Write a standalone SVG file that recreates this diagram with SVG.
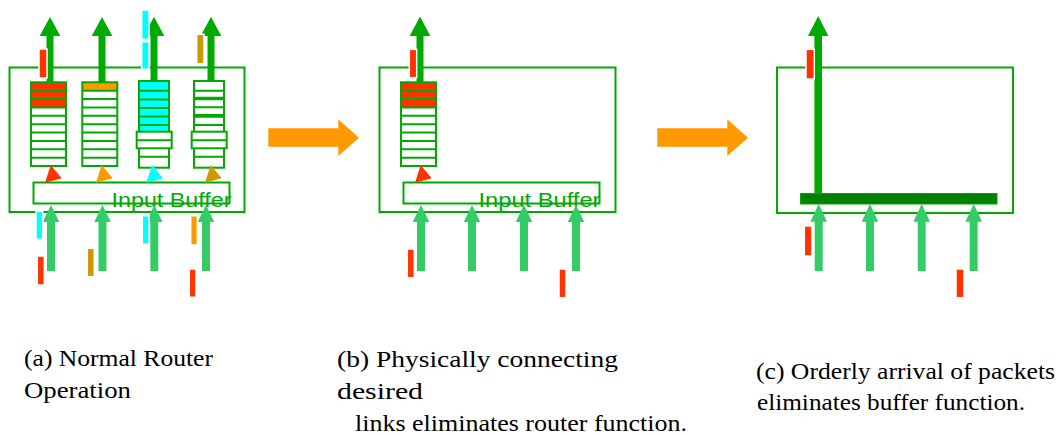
<svg xmlns="http://www.w3.org/2000/svg" xmlns:xlink="http://www.w3.org/1999/xlink" width="1058" height="435" viewBox="0 0 1058 435">
<style>
.box{fill:none;stroke:#00AA00;stroke-width:2}
.slot{fill:none;stroke:#00AA00;stroke-width:2}
.wide{fill:#fff;stroke:#00AA00;stroke-width:2}
.buf{fill:#fff;stroke:#00AA00;stroke-width:2}
.buft{font-family:'Liberation Sans',Arial,sans-serif;font-size:21px;fill:#00AA00}
.out{fill:#00AA00}
.in{fill:#33CC66}
.big{fill:#FF9900}
.pk{stroke:#fff;stroke-width:1.5}
.red{fill:#FF3300}.cyan{fill:#00FFFF}.gold{fill:#CC9900}.orange{fill:#FF9900}
.cap{font-family:'Liberation Serif','Times New Roman',Times,serif;font-size:24px;fill:#000}
</style>
<defs>
<g id="q10">
<rect class="slot" x="0" y="0" width="35" height="83.7"/>
<path class="slot" d="M0 8.37H35M0 16.74H35M0 25.11H35M0 33.48H35M0 41.85H35M0 50.22H35M0 58.59H35M0 66.96H35M0 75.33H35"/>
</g>
<polygon id="tri" points="0,0 -5.7,17.7 11,13.3"/>
</defs>

<!-- Panel A -->
<g id="panelA">
<rect class="box" x="9.5" y="67.5" width="235" height="144.5"/>
<g id="queueA1">
<rect class="red" x="31" y="82.3" width="35" height="25.1"/>
<use xlink:href="#q10" x="31" y="82.3"/>
</g>
<g id="queueA2">
<rect class="orange" x="82.3" y="82.3" width="35" height="8.37"/>
<use xlink:href="#q10" x="82.3" y="82.3"/>
</g>
<g id="queueA3">
<rect class="cyan" x="139" y="81" width="30" height="52.3"/>
<rect class="slot" x="139" y="81" width="30" height="86.7"/>
<path class="slot" d="M139 90.7H169M139 99.5H169M139 108H169M139 116.6H169M139 125H169M139 156.7H169"/>
<rect class="wide" x="136.7" y="131.7" width="35" height="16.6"/>
<path class="slot" d="M136.7 140.2H171.7"/>
</g>
<g id="queueA4">
<rect class="slot" x="194" y="81" width="30" height="86.7"/>
<path class="slot" d="M194 90.7H224M194 97.7H224M194 99.3H224M194 107.3H224M194 115H224M194 116.8H224M194 125H224M194 156.7H224"/>
<rect class="wide" x="191.7" y="131.7" width="35" height="16.6"/>
<path class="slot" d="M191.7 140.2H226.7"/>
</g>
<g id="bufferA">
<rect class="buf" x="33.5" y="182.5" width="196" height="21"/>
<text class="buft" x="111.5" y="206.7" textLength="120" lengthAdjust="spacingAndGlyphs">Input Buffer</text>
</g>
<g id="triA">
<use xlink:href="#tri" x="50.7" y="165" class="red"/>
<use xlink:href="#tri" x="101.7" y="165" class="orange"/>
<use xlink:href="#tri" x="152" y="165" class="cyan"/>
<use xlink:href="#tri" x="210.7" y="165" class="gold"/>
</g>
</g>

<!-- Panel B -->
<g id="panelB">
<rect class="box" x="379.5" y="67.5" width="236" height="144.5"/>
<g id="queueB1">
<rect class="red" x="401" y="82.3" width="35" height="25.1"/>
<use xlink:href="#q10" x="401" y="82.3"/>
</g>
<g id="bufferB">
<rect class="buf" x="403.5" y="182.5" width="196" height="21"/>
<text class="buft" x="478.5" y="206.7" textLength="122" lengthAdjust="spacingAndGlyphs">Input Buffer</text>
</g>
<use xlink:href="#tri" x="420.7" y="165" class="red"/>
</g>

<!-- Panel C -->
<g id="panelC">
<rect class="box" x="777" y="67.5" width="236" height="145.5"/>
<rect id="barC" x="800.5" y="193.5" width="196.5" height="10.5" fill="#008000" stroke="#00AA00" stroke-width="1"/>
</g>

<!-- Connectors -->
<g id="connectors">
<polygon class="out" points="50,17 60.3,36 53.5,36 53.5,82.5 46.5,82.5 46.5,36 39.7,36"/>
<polygon class="out" points="102,17 112.3,36 105.5,36 105.5,82.5 98.5,82.5 98.5,36 91.7,36"/>
<polygon class="out" points="154,16.7 164.3,36 157.5,36 157.5,81.5 150.5,81.5 150.5,36 143.7,36"/>
<polygon class="out" points="211,16.7 221.3,36 214.5,36 214.5,81.5 207.5,81.5 207.5,36 200.7,36"/>
<polygon class="in" points="51,205 59.3,222 55,222 55,271 47,271 47,222 42.7,222"/>
<polygon class="in" points="102.5,205 110.8,222 106.5,222 106.5,271 98.5,271 98.5,222 94.2,222"/>
<polygon class="in" points="154.3,205 162.6,222 158.3,222 158.3,271 150.3,271 150.3,222 146,222"/>
<polygon class="in" points="206,205 214.3,222 210,222 210,271 202,271 202,222 197.7,222"/>
<polygon class="big" points="268.3,128.3 338.3,128.3 338.3,119.3 359,137.7 338.3,156 338.3,146.7 268.3,146.7"/>
<polygon class="big" points="657.3,128.3 727.3,128.3 727.3,119.3 748,137.7 727.3,156 727.3,146.7 657.3,146.7"/>
<polygon class="out" points="420,16.5 430.3,36 423.5,36 423.5,82.5 416.5,82.5 416.5,36 409.7,36"/>
<polygon class="in" points="421,205 429.3,222 425,222 425,271 417,271 417,222 412.7,222"/>
<polygon class="in" points="472,205 480.3,222 476,222 476,271 468,271 468,222 463.7,222"/>
<polygon class="in" points="524,205 532.3,222 528,222 528,271 520,271 520,222 515.7,222"/>
<polygon class="in" points="576,205 584.3,222 580,222 580,271 572,271 572,222 567.7,222"/>
<polygon class="out" points="818.2,16 828.4,36 822,36 822,194 814.4,194 814.4,36 808,36"/>
<polygon class="in" points="818.7,204 827,221.7 822.7,221.7 822.7,271 814.7,271 814.7,221.7 810.4,221.7"/>
<polygon class="in" points="870,204 878.3,221.7 874,221.7 874,271 866,271 866,221.7 861.7,221.7"/>
<polygon class="in" points="921.7,204 930,221.7 925.7,221.7 925.7,271 917.7,271 917.7,221.7 913.4,221.7"/>
<polygon class="in" points="973.7,204 982,221.7 977.7,221.7 977.7,271 969.7,271 969.7,221.7 965.4,221.7"/>
</g>

<!-- Packets -->
<g id="packets">
<rect class="pk red" x="39" y="49" width="8" height="29"/>
<rect class="pk cyan" x="141.7" y="10" width="7.3" height="29.3"/>
<rect class="pk cyan" x="141.7" y="41.7" width="7.3" height="27.5"/>
<rect class="pk gold" x="196.7" y="34.3" width="7.3" height="29.4"/>
<rect class="pk cyan" x="36" y="211" width="6.7" height="28.3"/>
<rect class="pk red" x="37.3" y="256" width="7" height="29"/>
<rect class="pk gold" x="87.3" y="248.3" width="7" height="28.4"/>
<rect class="pk cyan" x="142.3" y="215.7" width="6.7" height="28.6"/>
<rect class="pk orange" x="190.7" y="215.7" width="6.7" height="29.3"/>
<rect class="pk red" x="189.3" y="269" width="6.7" height="28.3"/>
<rect class="pk red" x="409.3" y="49.3" width="7.4" height="28.4"/>
<rect class="pk red" x="407.3" y="249" width="7" height="28.7"/>
<rect class="pk red" x="559" y="269" width="7" height="28.7"/>
<rect class="pk red" x="806" y="49.3" width="8.3" height="29.7"/>
<rect class="pk red" x="804.3" y="226" width="7.7" height="30"/>
<rect class="pk red" x="956" y="269" width="8" height="28.7"/>
</g>

<!-- Captions -->
<g id="captionA">
<text class="cap" font-family="Liberation Serif, serif" x="24" y="366" textLength="189" lengthAdjust="spacingAndGlyphs">(a) Normal Router</text>
<text class="cap" font-family="Liberation Serif, serif" x="24" y="398" textLength="107" lengthAdjust="spacingAndGlyphs">Operation</text>
</g>
<g id="captionB">
<text class="cap" x="337" y="367" textLength="281" lengthAdjust="spacingAndGlyphs">(b) Physically connecting</text>
<text class="cap" x="337" y="399" textLength="86" lengthAdjust="spacingAndGlyphs">desired</text>
<text class="cap" x="355" y="431" textLength="332" lengthAdjust="spacingAndGlyphs">links eliminates router function.</text>
</g>
<g id="captionC">
<text class="cap" x="756" y="379" textLength="299" lengthAdjust="spacingAndGlyphs">(c) Orderly arrival of packets</text>
<text class="cap" x="757" y="410" textLength="268" lengthAdjust="spacingAndGlyphs">eliminates buffer function.</text>
</g>
</svg>
